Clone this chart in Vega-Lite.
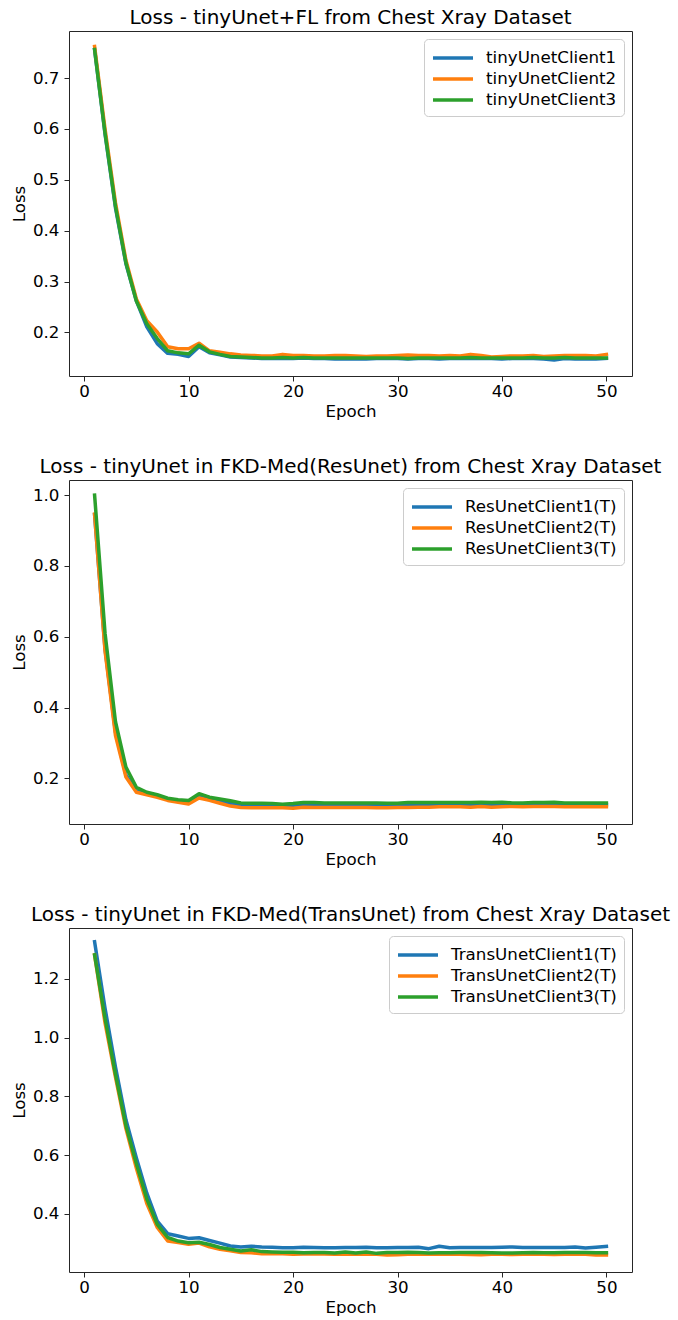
{
  "$schema": "https://vega.github.io/schema/vega-lite/v6.json",
  "padding": {"left": 10, "top": 7, "right": 5, "bottom": 0},
  "config": {
    "font": "DejaVu Sans",
    "view": {"stroke": "#262626", "strokeWidth": 1},
    "axis": {"grid": false, "domain": false, "tickColor": "#262626", "tickSize": 5, "tickWidth": 1, "labelFontSize": 16.7, "labelColor": "#000", "titleFontSize": 16.7, "titleFontWeight": "normal", "titleColor": "#000", "labelFont": "DejaVu Sans", "titleFont": "DejaVu Sans"},
    "axisY": {"titlePadding": 4, "labelPadding": 5},
    "axisX": {"titlePadding": 4, "labelPadding": 2},
    "title": {"fontSize": 20, "fontWeight": "normal", "font": "DejaVu Sans", "offset": 3, "color": "#000"},
    "legend": {"symbolType": "M-1,0H3", "symbolSize": 400, "symbolStrokeWidth": 3.5, "labelFontSize": 16.7, "labelFont": "DejaVu Sans", "labelColor": "#000", "labelOffset": 31, "labelLimit": 400, "rowPadding": 0, "padding": 7, "strokeColor": "#cccccc", "cornerRadius": 4, "fillColor": "rgba(255,255,255,0.8)", "orient": "top-right", "offset": 8},
    "concat": {"spacing": 35},
    "line": {"strokeWidth": 3.5, "strokeCap": "square", "strokeJoin": "round"}
  },
  "datasets": {
    "p1": [
      {"epoch":1,"client":"tinyUnetClient1","loss":0.756},{"epoch":2,"client":"tinyUnetClient1","loss":0.59},{"epoch":3,"client":"tinyUnetClient1","loss":0.445},{"epoch":4,"client":"tinyUnetClient1","loss":0.335},{"epoch":5,"client":"tinyUnetClient1","loss":0.262},{"epoch":6,"client":"tinyUnetClient1","loss":0.211},{"epoch":7,"client":"tinyUnetClient1","loss":0.178},{"epoch":8,"client":"tinyUnetClient1","loss":0.159},{"epoch":9,"client":"tinyUnetClient1","loss":0.157},{"epoch":10,"client":"tinyUnetClient1","loss":0.153},
      {"epoch":11,"client":"tinyUnetClient1","loss":0.172},{"epoch":12,"client":"tinyUnetClient1","loss":0.16},{"epoch":13,"client":"tinyUnetClient1","loss":0.156},{"epoch":14,"client":"tinyUnetClient1","loss":0.152},{"epoch":15,"client":"tinyUnetClient1","loss":0.151},{"epoch":16,"client":"tinyUnetClient1","loss":0.15},{"epoch":17,"client":"tinyUnetClient1","loss":0.149},{"epoch":18,"client":"tinyUnetClient1","loss":0.149},{"epoch":19,"client":"tinyUnetClient1","loss":0.149},{"epoch":20,"client":"tinyUnetClient1","loss":0.149},
      {"epoch":21,"client":"tinyUnetClient1","loss":0.15},{"epoch":22,"client":"tinyUnetClient1","loss":0.149},{"epoch":23,"client":"tinyUnetClient1","loss":0.149},{"epoch":24,"client":"tinyUnetClient1","loss":0.148},{"epoch":25,"client":"tinyUnetClient1","loss":0.148},{"epoch":26,"client":"tinyUnetClient1","loss":0.148},{"epoch":27,"client":"tinyUnetClient1","loss":0.148},{"epoch":28,"client":"tinyUnetClient1","loss":0.149},{"epoch":29,"client":"tinyUnetClient1","loss":0.149},{"epoch":30,"client":"tinyUnetClient1","loss":0.149},
      {"epoch":31,"client":"tinyUnetClient1","loss":0.148},{"epoch":32,"client":"tinyUnetClient1","loss":0.149},{"epoch":33,"client":"tinyUnetClient1","loss":0.149},{"epoch":34,"client":"tinyUnetClient1","loss":0.148},{"epoch":35,"client":"tinyUnetClient1","loss":0.149},{"epoch":36,"client":"tinyUnetClient1","loss":0.149},{"epoch":37,"client":"tinyUnetClient1","loss":0.149},{"epoch":38,"client":"tinyUnetClient1","loss":0.149},{"epoch":39,"client":"tinyUnetClient1","loss":0.149},{"epoch":40,"client":"tinyUnetClient1","loss":0.148},
      {"epoch":41,"client":"tinyUnetClient1","loss":0.149},{"epoch":42,"client":"tinyUnetClient1","loss":0.149},{"epoch":43,"client":"tinyUnetClient1","loss":0.149},{"epoch":44,"client":"tinyUnetClient1","loss":0.148},{"epoch":45,"client":"tinyUnetClient1","loss":0.146},{"epoch":46,"client":"tinyUnetClient1","loss":0.149},{"epoch":47,"client":"tinyUnetClient1","loss":0.148},{"epoch":48,"client":"tinyUnetClient1","loss":0.148},{"epoch":49,"client":"tinyUnetClient1","loss":0.148},{"epoch":50,"client":"tinyUnetClient1","loss":0.149},
      {"epoch":1,"client":"tinyUnetClient2","loss":0.762},{"epoch":2,"client":"tinyUnetClient2","loss":0.6},{"epoch":3,"client":"tinyUnetClient2","loss":0.455},{"epoch":4,"client":"tinyUnetClient2","loss":0.342},{"epoch":5,"client":"tinyUnetClient2","loss":0.266},{"epoch":6,"client":"tinyUnetClient2","loss":0.223},{"epoch":7,"client":"tinyUnetClient2","loss":0.201},{"epoch":8,"client":"tinyUnetClient2","loss":0.172},{"epoch":9,"client":"tinyUnetClient2","loss":0.168},{"epoch":10,"client":"tinyUnetClient2","loss":0.168},
      {"epoch":11,"client":"tinyUnetClient2","loss":0.179},{"epoch":12,"client":"tinyUnetClient2","loss":0.164},{"epoch":13,"client":"tinyUnetClient2","loss":0.161},{"epoch":14,"client":"tinyUnetClient2","loss":0.158},{"epoch":15,"client":"tinyUnetClient2","loss":0.156},{"epoch":16,"client":"tinyUnetClient2","loss":0.155},{"epoch":17,"client":"tinyUnetClient2","loss":0.154},{"epoch":18,"client":"tinyUnetClient2","loss":0.154},{"epoch":19,"client":"tinyUnetClient2","loss":0.157},{"epoch":20,"client":"tinyUnetClient2","loss":0.155},
      {"epoch":21,"client":"tinyUnetClient2","loss":0.155},{"epoch":22,"client":"tinyUnetClient2","loss":0.154},{"epoch":23,"client":"tinyUnetClient2","loss":0.154},{"epoch":24,"client":"tinyUnetClient2","loss":0.155},{"epoch":25,"client":"tinyUnetClient2","loss":0.155},{"epoch":26,"client":"tinyUnetClient2","loss":0.154},{"epoch":27,"client":"tinyUnetClient2","loss":0.153},{"epoch":28,"client":"tinyUnetClient2","loss":0.154},{"epoch":29,"client":"tinyUnetClient2","loss":0.154},{"epoch":30,"client":"tinyUnetClient2","loss":0.155},
      {"epoch":31,"client":"tinyUnetClient2","loss":0.156},{"epoch":32,"client":"tinyUnetClient2","loss":0.155},{"epoch":33,"client":"tinyUnetClient2","loss":0.155},{"epoch":34,"client":"tinyUnetClient2","loss":0.154},{"epoch":35,"client":"tinyUnetClient2","loss":0.155},{"epoch":36,"client":"tinyUnetClient2","loss":0.154},{"epoch":37,"client":"tinyUnetClient2","loss":0.157},{"epoch":38,"client":"tinyUnetClient2","loss":0.155},{"epoch":39,"client":"tinyUnetClient2","loss":0.152},{"epoch":40,"client":"tinyUnetClient2","loss":0.153},
      {"epoch":41,"client":"tinyUnetClient2","loss":0.154},{"epoch":42,"client":"tinyUnetClient2","loss":0.154},{"epoch":43,"client":"tinyUnetClient2","loss":0.155},{"epoch":44,"client":"tinyUnetClient2","loss":0.153},{"epoch":45,"client":"tinyUnetClient2","loss":0.154},{"epoch":46,"client":"tinyUnetClient2","loss":0.155},{"epoch":47,"client":"tinyUnetClient2","loss":0.155},{"epoch":48,"client":"tinyUnetClient2","loss":0.155},{"epoch":49,"client":"tinyUnetClient2","loss":0.154},{"epoch":50,"client":"tinyUnetClient2","loss":0.157},
      {"epoch":1,"client":"tinyUnetClient3","loss":0.756},{"epoch":2,"client":"tinyUnetClient3","loss":0.592},{"epoch":3,"client":"tinyUnetClient3","loss":0.448},{"epoch":4,"client":"tinyUnetClient3","loss":0.337},{"epoch":5,"client":"tinyUnetClient3","loss":0.262},{"epoch":6,"client":"tinyUnetClient3","loss":0.217},{"epoch":7,"client":"tinyUnetClient3","loss":0.188},{"epoch":8,"client":"tinyUnetClient3","loss":0.164},{"epoch":9,"client":"tinyUnetClient3","loss":0.16},{"epoch":10,"client":"tinyUnetClient3","loss":0.158},
      {"epoch":11,"client":"tinyUnetClient3","loss":0.175},{"epoch":12,"client":"tinyUnetClient3","loss":0.162},{"epoch":13,"client":"tinyUnetClient3","loss":0.157},{"epoch":14,"client":"tinyUnetClient3","loss":0.153},{"epoch":15,"client":"tinyUnetClient3","loss":0.152},{"epoch":16,"client":"tinyUnetClient3","loss":0.151},{"epoch":17,"client":"tinyUnetClient3","loss":0.15},{"epoch":18,"client":"tinyUnetClient3","loss":0.15},{"epoch":19,"client":"tinyUnetClient3","loss":0.151},{"epoch":20,"client":"tinyUnetClient3","loss":0.15},
      {"epoch":21,"client":"tinyUnetClient3","loss":0.151},{"epoch":22,"client":"tinyUnetClient3","loss":0.15},{"epoch":23,"client":"tinyUnetClient3","loss":0.15},{"epoch":24,"client":"tinyUnetClient3","loss":0.15},{"epoch":25,"client":"tinyUnetClient3","loss":0.15},{"epoch":26,"client":"tinyUnetClient3","loss":0.15},{"epoch":27,"client":"tinyUnetClient3","loss":0.15},{"epoch":28,"client":"tinyUnetClient3","loss":0.15},{"epoch":29,"client":"tinyUnetClient3","loss":0.15},{"epoch":30,"client":"tinyUnetClient3","loss":0.15},
      {"epoch":31,"client":"tinyUnetClient3","loss":0.149},{"epoch":32,"client":"tinyUnetClient3","loss":0.15},{"epoch":33,"client":"tinyUnetClient3","loss":0.15},{"epoch":34,"client":"tinyUnetClient3","loss":0.15},{"epoch":35,"client":"tinyUnetClient3","loss":0.15},{"epoch":36,"client":"tinyUnetClient3","loss":0.15},{"epoch":37,"client":"tinyUnetClient3","loss":0.151},{"epoch":38,"client":"tinyUnetClient3","loss":0.15},{"epoch":39,"client":"tinyUnetClient3","loss":0.15},{"epoch":40,"client":"tinyUnetClient3","loss":0.15},
      {"epoch":41,"client":"tinyUnetClient3","loss":0.15},{"epoch":42,"client":"tinyUnetClient3","loss":0.15},{"epoch":43,"client":"tinyUnetClient3","loss":0.151},{"epoch":44,"client":"tinyUnetClient3","loss":0.15},{"epoch":45,"client":"tinyUnetClient3","loss":0.15},{"epoch":46,"client":"tinyUnetClient3","loss":0.151},{"epoch":47,"client":"tinyUnetClient3","loss":0.15},{"epoch":48,"client":"tinyUnetClient3","loss":0.15},{"epoch":49,"client":"tinyUnetClient3","loss":0.15},{"epoch":50,"client":"tinyUnetClient3","loss":0.15}
    ],
    "p2": [
      {"epoch":1,"client":"ResUnetClient1(T)","loss":0.945},{"epoch":2,"client":"ResUnetClient1(T)","loss":0.565},{"epoch":3,"client":"ResUnetClient1(T)","loss":0.33},{"epoch":4,"client":"ResUnetClient1(T)","loss":0.21},{"epoch":5,"client":"ResUnetClient1(T)","loss":0.165},{"epoch":6,"client":"ResUnetClient1(T)","loss":0.157},{"epoch":7,"client":"ResUnetClient1(T)","loss":0.15},{"epoch":8,"client":"ResUnetClient1(T)","loss":0.141},{"epoch":9,"client":"ResUnetClient1(T)","loss":0.137},{"epoch":10,"client":"ResUnetClient1(T)","loss":0.133},
      {"epoch":11,"client":"ResUnetClient1(T)","loss":0.15},{"epoch":12,"client":"ResUnetClient1(T)","loss":0.142},{"epoch":13,"client":"ResUnetClient1(T)","loss":0.136},{"epoch":14,"client":"ResUnetClient1(T)","loss":0.13},{"epoch":15,"client":"ResUnetClient1(T)","loss":0.126},{"epoch":16,"client":"ResUnetClient1(T)","loss":0.125},{"epoch":17,"client":"ResUnetClient1(T)","loss":0.125},{"epoch":18,"client":"ResUnetClient1(T)","loss":0.124},{"epoch":19,"client":"ResUnetClient1(T)","loss":0.124},{"epoch":20,"client":"ResUnetClient1(T)","loss":0.124},
      {"epoch":21,"client":"ResUnetClient1(T)","loss":0.126},{"epoch":22,"client":"ResUnetClient1(T)","loss":0.126},{"epoch":23,"client":"ResUnetClient1(T)","loss":0.126},{"epoch":24,"client":"ResUnetClient1(T)","loss":0.125},{"epoch":25,"client":"ResUnetClient1(T)","loss":0.126},{"epoch":26,"client":"ResUnetClient1(T)","loss":0.126},{"epoch":27,"client":"ResUnetClient1(T)","loss":0.125},{"epoch":28,"client":"ResUnetClient1(T)","loss":0.126},{"epoch":29,"client":"ResUnetClient1(T)","loss":0.125},{"epoch":30,"client":"ResUnetClient1(T)","loss":0.125},
      {"epoch":31,"client":"ResUnetClient1(T)","loss":0.126},{"epoch":32,"client":"ResUnetClient1(T)","loss":0.126},{"epoch":33,"client":"ResUnetClient1(T)","loss":0.126},{"epoch":34,"client":"ResUnetClient1(T)","loss":0.127},{"epoch":35,"client":"ResUnetClient1(T)","loss":0.126},{"epoch":36,"client":"ResUnetClient1(T)","loss":0.127},{"epoch":37,"client":"ResUnetClient1(T)","loss":0.126},{"epoch":38,"client":"ResUnetClient1(T)","loss":0.127},{"epoch":39,"client":"ResUnetClient1(T)","loss":0.126},{"epoch":40,"client":"ResUnetClient1(T)","loss":0.127},
      {"epoch":41,"client":"ResUnetClient1(T)","loss":0.127},{"epoch":42,"client":"ResUnetClient1(T)","loss":0.126},{"epoch":43,"client":"ResUnetClient1(T)","loss":0.127},{"epoch":44,"client":"ResUnetClient1(T)","loss":0.127},{"epoch":45,"client":"ResUnetClient1(T)","loss":0.127},{"epoch":46,"client":"ResUnetClient1(T)","loss":0.126},{"epoch":47,"client":"ResUnetClient1(T)","loss":0.126},{"epoch":48,"client":"ResUnetClient1(T)","loss":0.126},{"epoch":49,"client":"ResUnetClient1(T)","loss":0.126},{"epoch":50,"client":"ResUnetClient1(T)","loss":0.126},
      {"epoch":1,"client":"ResUnetClient2(T)","loss":0.946},{"epoch":2,"client":"ResUnetClient2(T)","loss":0.56},{"epoch":3,"client":"ResUnetClient2(T)","loss":0.321},{"epoch":4,"client":"ResUnetClient2(T)","loss":0.204},{"epoch":5,"client":"ResUnetClient2(T)","loss":0.161},{"epoch":6,"client":"ResUnetClient2(T)","loss":0.154},{"epoch":7,"client":"ResUnetClient2(T)","loss":0.147},{"epoch":8,"client":"ResUnetClient2(T)","loss":0.138},{"epoch":9,"client":"ResUnetClient2(T)","loss":0.133},{"epoch":10,"client":"ResUnetClient2(T)","loss":0.128},
      {"epoch":11,"client":"ResUnetClient2(T)","loss":0.145},{"epoch":12,"client":"ResUnetClient2(T)","loss":0.138},{"epoch":13,"client":"ResUnetClient2(T)","loss":0.13},{"epoch":14,"client":"ResUnetClient2(T)","loss":0.122},{"epoch":15,"client":"ResUnetClient2(T)","loss":0.118},{"epoch":16,"client":"ResUnetClient2(T)","loss":0.117},{"epoch":17,"client":"ResUnetClient2(T)","loss":0.117},{"epoch":18,"client":"ResUnetClient2(T)","loss":0.117},{"epoch":19,"client":"ResUnetClient2(T)","loss":0.117},{"epoch":20,"client":"ResUnetClient2(T)","loss":0.116},
      {"epoch":21,"client":"ResUnetClient2(T)","loss":0.119},{"epoch":22,"client":"ResUnetClient2(T)","loss":0.118},{"epoch":23,"client":"ResUnetClient2(T)","loss":0.118},{"epoch":24,"client":"ResUnetClient2(T)","loss":0.118},{"epoch":25,"client":"ResUnetClient2(T)","loss":0.118},{"epoch":26,"client":"ResUnetClient2(T)","loss":0.118},{"epoch":27,"client":"ResUnetClient2(T)","loss":0.118},{"epoch":28,"client":"ResUnetClient2(T)","loss":0.117},{"epoch":29,"client":"ResUnetClient2(T)","loss":0.117},{"epoch":30,"client":"ResUnetClient2(T)","loss":0.118},
      {"epoch":31,"client":"ResUnetClient2(T)","loss":0.118},{"epoch":32,"client":"ResUnetClient2(T)","loss":0.119},{"epoch":33,"client":"ResUnetClient2(T)","loss":0.119},{"epoch":34,"client":"ResUnetClient2(T)","loss":0.12},{"epoch":35,"client":"ResUnetClient2(T)","loss":0.12},{"epoch":36,"client":"ResUnetClient2(T)","loss":0.12},{"epoch":37,"client":"ResUnetClient2(T)","loss":0.119},{"epoch":38,"client":"ResUnetClient2(T)","loss":0.121},{"epoch":39,"client":"ResUnetClient2(T)","loss":0.119},{"epoch":40,"client":"ResUnetClient2(T)","loss":0.12},
      {"epoch":41,"client":"ResUnetClient2(T)","loss":0.121},{"epoch":42,"client":"ResUnetClient2(T)","loss":0.12},{"epoch":43,"client":"ResUnetClient2(T)","loss":0.121},{"epoch":44,"client":"ResUnetClient2(T)","loss":0.121},{"epoch":45,"client":"ResUnetClient2(T)","loss":0.121},{"epoch":46,"client":"ResUnetClient2(T)","loss":0.12},{"epoch":47,"client":"ResUnetClient2(T)","loss":0.12},{"epoch":48,"client":"ResUnetClient2(T)","loss":0.121},{"epoch":49,"client":"ResUnetClient2(T)","loss":0.12},{"epoch":50,"client":"ResUnetClient2(T)","loss":0.12},
      {"epoch":1,"client":"ResUnetClient3(T)","loss":1.0},{"epoch":2,"client":"ResUnetClient3(T)","loss":0.61},{"epoch":3,"client":"ResUnetClient3(T)","loss":0.36},{"epoch":4,"client":"ResUnetClient3(T)","loss":0.232},{"epoch":5,"client":"ResUnetClient3(T)","loss":0.175},{"epoch":6,"client":"ResUnetClient3(T)","loss":0.161},{"epoch":7,"client":"ResUnetClient3(T)","loss":0.154},{"epoch":8,"client":"ResUnetClient3(T)","loss":0.144},{"epoch":9,"client":"ResUnetClient3(T)","loss":0.14},{"epoch":10,"client":"ResUnetClient3(T)","loss":0.138},
      {"epoch":11,"client":"ResUnetClient3(T)","loss":0.157},{"epoch":12,"client":"ResUnetClient3(T)","loss":0.147},{"epoch":13,"client":"ResUnetClient3(T)","loss":0.142},{"epoch":14,"client":"ResUnetClient3(T)","loss":0.137},{"epoch":15,"client":"ResUnetClient3(T)","loss":0.131},{"epoch":16,"client":"ResUnetClient3(T)","loss":0.13},{"epoch":17,"client":"ResUnetClient3(T)","loss":0.13},{"epoch":18,"client":"ResUnetClient3(T)","loss":0.129},{"epoch":19,"client":"ResUnetClient3(T)","loss":0.127},{"epoch":20,"client":"ResUnetClient3(T)","loss":0.129},
      {"epoch":21,"client":"ResUnetClient3(T)","loss":0.132},{"epoch":22,"client":"ResUnetClient3(T)","loss":0.132},{"epoch":23,"client":"ResUnetClient3(T)","loss":0.131},{"epoch":24,"client":"ResUnetClient3(T)","loss":0.131},{"epoch":25,"client":"ResUnetClient3(T)","loss":0.131},{"epoch":26,"client":"ResUnetClient3(T)","loss":0.131},{"epoch":27,"client":"ResUnetClient3(T)","loss":0.131},{"epoch":28,"client":"ResUnetClient3(T)","loss":0.131},{"epoch":29,"client":"ResUnetClient3(T)","loss":0.13},{"epoch":30,"client":"ResUnetClient3(T)","loss":0.13},
      {"epoch":31,"client":"ResUnetClient3(T)","loss":0.132},{"epoch":32,"client":"ResUnetClient3(T)","loss":0.132},{"epoch":33,"client":"ResUnetClient3(T)","loss":0.132},{"epoch":34,"client":"ResUnetClient3(T)","loss":0.132},{"epoch":35,"client":"ResUnetClient3(T)","loss":0.132},{"epoch":36,"client":"ResUnetClient3(T)","loss":0.132},{"epoch":37,"client":"ResUnetClient3(T)","loss":0.132},{"epoch":38,"client":"ResUnetClient3(T)","loss":0.133},{"epoch":39,"client":"ResUnetClient3(T)","loss":0.132},{"epoch":40,"client":"ResUnetClient3(T)","loss":0.133},
      {"epoch":41,"client":"ResUnetClient3(T)","loss":0.131},{"epoch":42,"client":"ResUnetClient3(T)","loss":0.131},{"epoch":43,"client":"ResUnetClient3(T)","loss":0.132},{"epoch":44,"client":"ResUnetClient3(T)","loss":0.132},{"epoch":45,"client":"ResUnetClient3(T)","loss":0.133},{"epoch":46,"client":"ResUnetClient3(T)","loss":0.131},{"epoch":47,"client":"ResUnetClient3(T)","loss":0.131},{"epoch":48,"client":"ResUnetClient3(T)","loss":0.131},{"epoch":49,"client":"ResUnetClient3(T)","loss":0.131},{"epoch":50,"client":"ResUnetClient3(T)","loss":0.131}
    ],
    "p3": [
      {"epoch":1,"client":"TransUnetClient1(T)","loss":1.327},{"epoch":2,"client":"TransUnetClient1(T)","loss":1.1},{"epoch":3,"client":"TransUnetClient1(T)","loss":0.9},{"epoch":4,"client":"TransUnetClient1(T)","loss":0.72},{"epoch":5,"client":"TransUnetClient1(T)","loss":0.59},{"epoch":6,"client":"TransUnetClient1(T)","loss":0.47},{"epoch":7,"client":"TransUnetClient1(T)","loss":0.375},{"epoch":8,"client":"TransUnetClient1(T)","loss":0.332},{"epoch":9,"client":"TransUnetClient1(T)","loss":0.324},{"epoch":10,"client":"TransUnetClient1(T)","loss":0.316},
      {"epoch":11,"client":"TransUnetClient1(T)","loss":0.318},{"epoch":12,"client":"TransUnetClient1(T)","loss":0.309},{"epoch":13,"client":"TransUnetClient1(T)","loss":0.3},{"epoch":14,"client":"TransUnetClient1(T)","loss":0.29},{"epoch":15,"client":"TransUnetClient1(T)","loss":0.287},{"epoch":16,"client":"TransUnetClient1(T)","loss":0.289},{"epoch":17,"client":"TransUnetClient1(T)","loss":0.287},{"epoch":18,"client":"TransUnetClient1(T)","loss":0.286},{"epoch":19,"client":"TransUnetClient1(T)","loss":0.284},{"epoch":20,"client":"TransUnetClient1(T)","loss":0.284},
      {"epoch":21,"client":"TransUnetClient1(T)","loss":0.286},{"epoch":22,"client":"TransUnetClient1(T)","loss":0.285},{"epoch":23,"client":"TransUnetClient1(T)","loss":0.284},{"epoch":24,"client":"TransUnetClient1(T)","loss":0.284},{"epoch":25,"client":"TransUnetClient1(T)","loss":0.285},{"epoch":26,"client":"TransUnetClient1(T)","loss":0.285},{"epoch":27,"client":"TransUnetClient1(T)","loss":0.286},{"epoch":28,"client":"TransUnetClient1(T)","loss":0.284},{"epoch":29,"client":"TransUnetClient1(T)","loss":0.284},{"epoch":30,"client":"TransUnetClient1(T)","loss":0.285},
      {"epoch":31,"client":"TransUnetClient1(T)","loss":0.285},{"epoch":32,"client":"TransUnetClient1(T)","loss":0.286},{"epoch":33,"client":"TransUnetClient1(T)","loss":0.281},{"epoch":34,"client":"TransUnetClient1(T)","loss":0.289},{"epoch":35,"client":"TransUnetClient1(T)","loss":0.284},{"epoch":36,"client":"TransUnetClient1(T)","loss":0.285},{"epoch":37,"client":"TransUnetClient1(T)","loss":0.285},{"epoch":38,"client":"TransUnetClient1(T)","loss":0.285},{"epoch":39,"client":"TransUnetClient1(T)","loss":0.285},{"epoch":40,"client":"TransUnetClient1(T)","loss":0.286},
      {"epoch":41,"client":"TransUnetClient1(T)","loss":0.287},{"epoch":42,"client":"TransUnetClient1(T)","loss":0.285},{"epoch":43,"client":"TransUnetClient1(T)","loss":0.285},{"epoch":44,"client":"TransUnetClient1(T)","loss":0.285},{"epoch":45,"client":"TransUnetClient1(T)","loss":0.285},{"epoch":46,"client":"TransUnetClient1(T)","loss":0.285},{"epoch":47,"client":"TransUnetClient1(T)","loss":0.287},{"epoch":48,"client":"TransUnetClient1(T)","loss":0.283},{"epoch":49,"client":"TransUnetClient1(T)","loss":0.286},{"epoch":50,"client":"TransUnetClient1(T)","loss":0.289},
      {"epoch":1,"client":"TransUnetClient2(T)","loss":1.282},{"epoch":2,"client":"TransUnetClient2(T)","loss":1.05},{"epoch":3,"client":"TransUnetClient2(T)","loss":0.865},{"epoch":4,"client":"TransUnetClient2(T)","loss":0.69},{"epoch":5,"client":"TransUnetClient2(T)","loss":0.555},{"epoch":6,"client":"TransUnetClient2(T)","loss":0.435},{"epoch":7,"client":"TransUnetClient2(T)","loss":0.353},{"epoch":8,"client":"TransUnetClient2(T)","loss":0.307},{"epoch":9,"client":"TransUnetClient2(T)","loss":0.302},{"epoch":10,"client":"TransUnetClient2(T)","loss":0.296},
      {"epoch":11,"client":"TransUnetClient2(T)","loss":0.3},{"epoch":12,"client":"TransUnetClient2(T)","loss":0.287},{"epoch":13,"client":"TransUnetClient2(T)","loss":0.279},{"epoch":14,"client":"TransUnetClient2(T)","loss":0.274},{"epoch":15,"client":"TransUnetClient2(T)","loss":0.268},{"epoch":16,"client":"TransUnetClient2(T)","loss":0.267},{"epoch":17,"client":"TransUnetClient2(T)","loss":0.264},{"epoch":18,"client":"TransUnetClient2(T)","loss":0.264},{"epoch":19,"client":"TransUnetClient2(T)","loss":0.264},{"epoch":20,"client":"TransUnetClient2(T)","loss":0.262},
      {"epoch":21,"client":"TransUnetClient2(T)","loss":0.263},{"epoch":22,"client":"TransUnetClient2(T)","loss":0.263},{"epoch":23,"client":"TransUnetClient2(T)","loss":0.263},{"epoch":24,"client":"TransUnetClient2(T)","loss":0.262},{"epoch":25,"client":"TransUnetClient2(T)","loss":0.263},{"epoch":26,"client":"TransUnetClient2(T)","loss":0.262},{"epoch":27,"client":"TransUnetClient2(T)","loss":0.262},{"epoch":28,"client":"TransUnetClient2(T)","loss":0.262},{"epoch":29,"client":"TransUnetClient2(T)","loss":0.259},{"epoch":30,"client":"TransUnetClient2(T)","loss":0.26},
      {"epoch":31,"client":"TransUnetClient2(T)","loss":0.262},{"epoch":32,"client":"TransUnetClient2(T)","loss":0.262},{"epoch":33,"client":"TransUnetClient2(T)","loss":0.262},{"epoch":34,"client":"TransUnetClient2(T)","loss":0.262},{"epoch":35,"client":"TransUnetClient2(T)","loss":0.262},{"epoch":36,"client":"TransUnetClient2(T)","loss":0.262},{"epoch":37,"client":"TransUnetClient2(T)","loss":0.261},{"epoch":38,"client":"TransUnetClient2(T)","loss":0.26},{"epoch":39,"client":"TransUnetClient2(T)","loss":0.262},{"epoch":40,"client":"TransUnetClient2(T)","loss":0.262},
      {"epoch":41,"client":"TransUnetClient2(T)","loss":0.261},{"epoch":42,"client":"TransUnetClient2(T)","loss":0.262},{"epoch":43,"client":"TransUnetClient2(T)","loss":0.263},{"epoch":44,"client":"TransUnetClient2(T)","loss":0.262},{"epoch":45,"client":"TransUnetClient2(T)","loss":0.261},{"epoch":46,"client":"TransUnetClient2(T)","loss":0.262},{"epoch":47,"client":"TransUnetClient2(T)","loss":0.262},{"epoch":48,"client":"TransUnetClient2(T)","loss":0.262},{"epoch":49,"client":"TransUnetClient2(T)","loss":0.259},{"epoch":50,"client":"TransUnetClient2(T)","loss":0.259},
      {"epoch":1,"client":"TransUnetClient3(T)","loss":1.282},{"epoch":2,"client":"TransUnetClient3(T)","loss":1.065},{"epoch":3,"client":"TransUnetClient3(T)","loss":0.875},{"epoch":4,"client":"TransUnetClient3(T)","loss":0.7},{"epoch":5,"client":"TransUnetClient3(T)","loss":0.57},{"epoch":6,"client":"TransUnetClient3(T)","loss":0.45},{"epoch":7,"client":"TransUnetClient3(T)","loss":0.364},{"epoch":8,"client":"TransUnetClient3(T)","loss":0.319},{"epoch":9,"client":"TransUnetClient3(T)","loss":0.307},{"epoch":10,"client":"TransUnetClient3(T)","loss":0.301},
      {"epoch":11,"client":"TransUnetClient3(T)","loss":0.303},{"epoch":12,"client":"TransUnetClient3(T)","loss":0.295},{"epoch":13,"client":"TransUnetClient3(T)","loss":0.285},{"epoch":14,"client":"TransUnetClient3(T)","loss":0.279},{"epoch":15,"client":"TransUnetClient3(T)","loss":0.273},{"epoch":16,"client":"TransUnetClient3(T)","loss":0.277},{"epoch":17,"client":"TransUnetClient3(T)","loss":0.271},{"epoch":18,"client":"TransUnetClient3(T)","loss":0.27},{"epoch":19,"client":"TransUnetClient3(T)","loss":0.269},{"epoch":20,"client":"TransUnetClient3(T)","loss":0.269},
      {"epoch":21,"client":"TransUnetClient3(T)","loss":0.267},{"epoch":22,"client":"TransUnetClient3(T)","loss":0.268},{"epoch":23,"client":"TransUnetClient3(T)","loss":0.268},{"epoch":24,"client":"TransUnetClient3(T)","loss":0.266},{"epoch":25,"client":"TransUnetClient3(T)","loss":0.27},{"epoch":26,"client":"TransUnetClient3(T)","loss":0.266},{"epoch":27,"client":"TransUnetClient3(T)","loss":0.27},{"epoch":28,"client":"TransUnetClient3(T)","loss":0.265},{"epoch":29,"client":"TransUnetClient3(T)","loss":0.268},{"epoch":30,"client":"TransUnetClient3(T)","loss":0.268},
      {"epoch":31,"client":"TransUnetClient3(T)","loss":0.269},{"epoch":32,"client":"TransUnetClient3(T)","loss":0.268},{"epoch":33,"client":"TransUnetClient3(T)","loss":0.266},{"epoch":34,"client":"TransUnetClient3(T)","loss":0.267},{"epoch":35,"client":"TransUnetClient3(T)","loss":0.267},{"epoch":36,"client":"TransUnetClient3(T)","loss":0.268},{"epoch":37,"client":"TransUnetClient3(T)","loss":0.268},{"epoch":38,"client":"TransUnetClient3(T)","loss":0.268},{"epoch":39,"client":"TransUnetClient3(T)","loss":0.267},{"epoch":40,"client":"TransUnetClient3(T)","loss":0.266},
      {"epoch":41,"client":"TransUnetClient3(T)","loss":0.266},{"epoch":42,"client":"TransUnetClient3(T)","loss":0.267},{"epoch":43,"client":"TransUnetClient3(T)","loss":0.268},{"epoch":44,"client":"TransUnetClient3(T)","loss":0.267},{"epoch":45,"client":"TransUnetClient3(T)","loss":0.267},{"epoch":46,"client":"TransUnetClient3(T)","loss":0.268},{"epoch":47,"client":"TransUnetClient3(T)","loss":0.268},{"epoch":48,"client":"TransUnetClient3(T)","loss":0.268},{"epoch":49,"client":"TransUnetClient3(T)","loss":0.267},{"epoch":50,"client":"TransUnetClient3(T)","loss":0.267}
    ]
  },
  "resolve": {"scale": {"color": "independent", "x": "independent", "y": "independent"}, "legend": {"color": "independent"}},
  "vconcat": [
    {
      "title": "Loss - tinyUnet+FL from Chest Xray Dataset",
      "width": 563, "height": 345,
      "data": {"name": "p1"},
      "mark": {"type": "line"},
      "encoding": {
        "x": {"field": "epoch", "type": "quantitative", "scale": {"domain": [-1.45, 52.45], "nice": false, "zero": false}, "axis": {"values": [0, 10, 20, 30, 40, 50], "title": "Epoch"}},
        "y": {"field": "loss", "type": "quantitative", "scale": {"domain": [0.1145, 0.7925], "nice": false, "zero": false}, "axis": {"values": [0.2, 0.3, 0.4, 0.5, 0.6, 0.7], "format": ".1f", "title": "Loss"}},
        "color": {"field": "client", "type": "nominal", "scale": {"domain": ["tinyUnetClient1", "tinyUnetClient2", "tinyUnetClient3"], "range": ["#1f77b4", "#ff7f0e", "#2ca02c"]}, "legend": {"title": null}}
      }
    },
    {
      "title": "Loss - tinyUnet in FKD-Med(ResUnet) from Chest Xray Dataset",
      "width": 563, "height": 344,
      "data": {"name": "p2"},
      "mark": {"type": "line"},
      "encoding": {
        "x": {"field": "epoch", "type": "quantitative", "scale": {"domain": [-1.45, 52.45], "nice": false, "zero": false}, "axis": {"values": [0, 10, 20, 30, 40, 50], "title": "Epoch"}},
        "y": {"field": "loss", "type": "quantitative", "scale": {"domain": [0.0714, 1.0424], "nice": false, "zero": false}, "axis": {"values": [0.2, 0.4, 0.6, 0.8, 1.0], "format": ".1f", "title": "Loss"}},
        "color": {"field": "client", "type": "nominal", "scale": {"domain": ["ResUnetClient1(T)", "ResUnetClient2(T)", "ResUnetClient3(T)"], "range": ["#1f77b4", "#ff7f0e", "#2ca02c"]}, "legend": {"title": null}}
      }
    },
    {
      "title": "Loss - tinyUnet in FKD-Med(TransUnet) from Chest Xray Dataset",
      "width": 563, "height": 344,
      "data": {"name": "p3"},
      "mark": {"type": "line"},
      "encoding": {
        "x": {"field": "epoch", "type": "quantitative", "scale": {"domain": [-1.45, 52.45], "nice": false, "zero": false}, "axis": {"values": [0, 10, 20, 30, 40, 50], "title": "Epoch"}},
        "y": {"field": "loss", "type": "quantitative", "scale": {"domain": [0.2015, 1.3735], "nice": false, "zero": false}, "axis": {"values": [0.4, 0.6, 0.8, 1.0, 1.2], "format": ".1f", "title": "Loss"}},
        "color": {"field": "client", "type": "nominal", "scale": {"domain": ["TransUnetClient1(T)", "TransUnetClient2(T)", "TransUnetClient3(T)"], "range": ["#1f77b4", "#ff7f0e", "#2ca02c"]}, "legend": {"title": null}}
      }
    }
  ]
}
